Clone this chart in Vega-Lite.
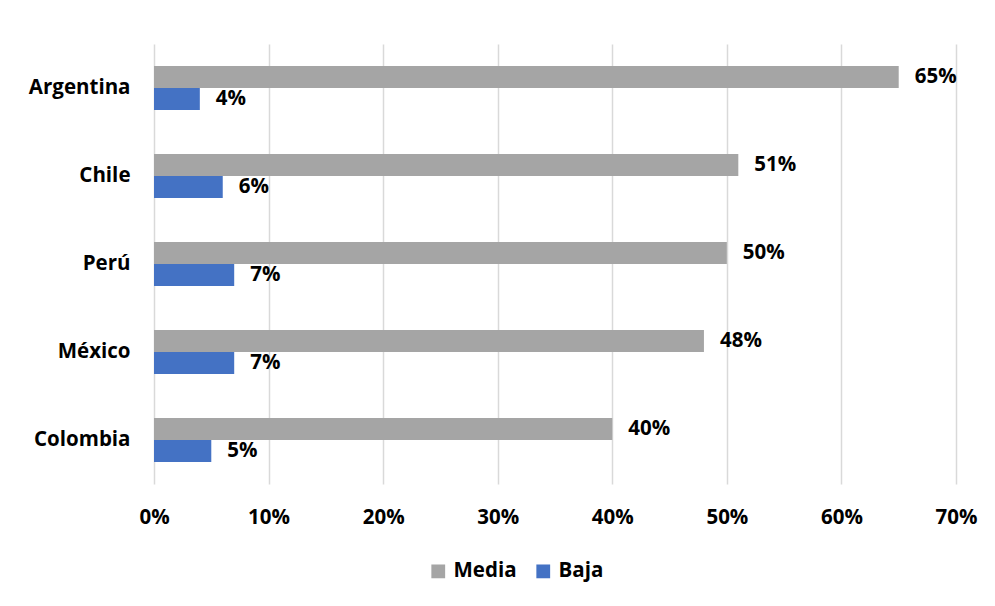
{
  "$schema": "https://vega.github.io/schema/vega-lite/v6.json",
  "autosize": "none",
  "width": 802,
  "height": 440,
  "padding": {"left": 154, "top": 44, "right": 39, "bottom": 122},
  "background": "white",
  "config": {
    "view": {"stroke": null},
    "font": "Open Sans"
  },
  "data": {
    "values": [
      {"pais": "Argentina", "nivel": "Media", "valor": 0.65},
      {"pais": "Argentina", "nivel": "Baja", "valor": 0.04},
      {"pais": "Chile", "nivel": "Media", "valor": 0.51},
      {"pais": "Chile", "nivel": "Baja", "valor": 0.06},
      {"pais": "Perú", "nivel": "Media", "valor": 0.50},
      {"pais": "Perú", "nivel": "Baja", "valor": 0.07},
      {"pais": "México", "nivel": "Media", "valor": 0.48},
      {"pais": "México", "nivel": "Baja", "valor": 0.07},
      {"pais": "Colombia", "nivel": "Media", "valor": 0.40},
      {"pais": "Colombia", "nivel": "Baja", "valor": 0.05}
    ]
  },
  "encoding": {
    "y": {
      "field": "pais",
      "type": "nominal",
      "sort": ["Argentina", "Chile", "Perú", "México", "Colombia"],
      "scale": {"paddingInner": 0.5, "paddingOuter": 0.25},
      "axis": {
        "title": null,
        "domain": false,
        "ticks": false,
        "labelPadding": 24,
        "labelFontSize": 20.5,
        "labelFontWeight": "bold",
        "labelColor": "#000000",
        "labelFont": "Open Sans"
      }
    },
    "yOffset": {
      "field": "nivel",
      "type": "nominal",
      "sort": ["Media", "Baja"]
    },
    "x": {
      "field": "valor",
      "type": "quantitative",
      "scale": {"domain": [0, 0.7], "nice": false},
      "axis": {
        "title": null,
        "format": ".0%",
        "values": [0, 0.1, 0.2, 0.3, 0.4, 0.5, 0.6, 0.7],
        "domain": false,
        "ticks": false,
        "grid": true,
        "gridColor": "#D9D9D9",
        "gridWidth": 1.5,
        "labelFlush": false,
        "labelPadding": 23,
        "labelFontSize": 20.5,
        "labelFontWeight": "bold",
        "labelColor": "#000000",
        "labelFont": "Open Sans"
      }
    }
  },
  "layer": [
    {
      "mark": {"type": "bar"},
      "encoding": {
        "color": {
          "field": "nivel",
          "type": "nominal",
          "sort": ["Media", "Baja"],
          "scale": {"domain": ["Media", "Baja"], "range": ["#A5A5A5", "#4472C4"]},
          "legend": {
            "title": null,
            "orient": "none",
            "legendX": 274,
            "legendY": 517,
            "direction": "horizontal",
            "symbolType": "square",
            "symbolSize": 190,
            "symbolStrokeWidth": 0,
            "labelFontSize": 20.5,
            "labelFontWeight": "bold",
            "labelColor": "#000000",
            "labelFont": "Open Sans",
            "columnPadding": 16,
            "labelOffset": 5
          }
        }
      }
    },
    {
      "mark": {"type": "text", "align": "left", "baseline": "middle", "dx": 16, "fontSize": 20.5, "fontWeight": "bold", "color": "#000000", "font": "Open Sans"},
      "encoding": {
        "text": {"field": "valor", "type": "quantitative", "format": ".0%"}
      }
    }
  ]
}
